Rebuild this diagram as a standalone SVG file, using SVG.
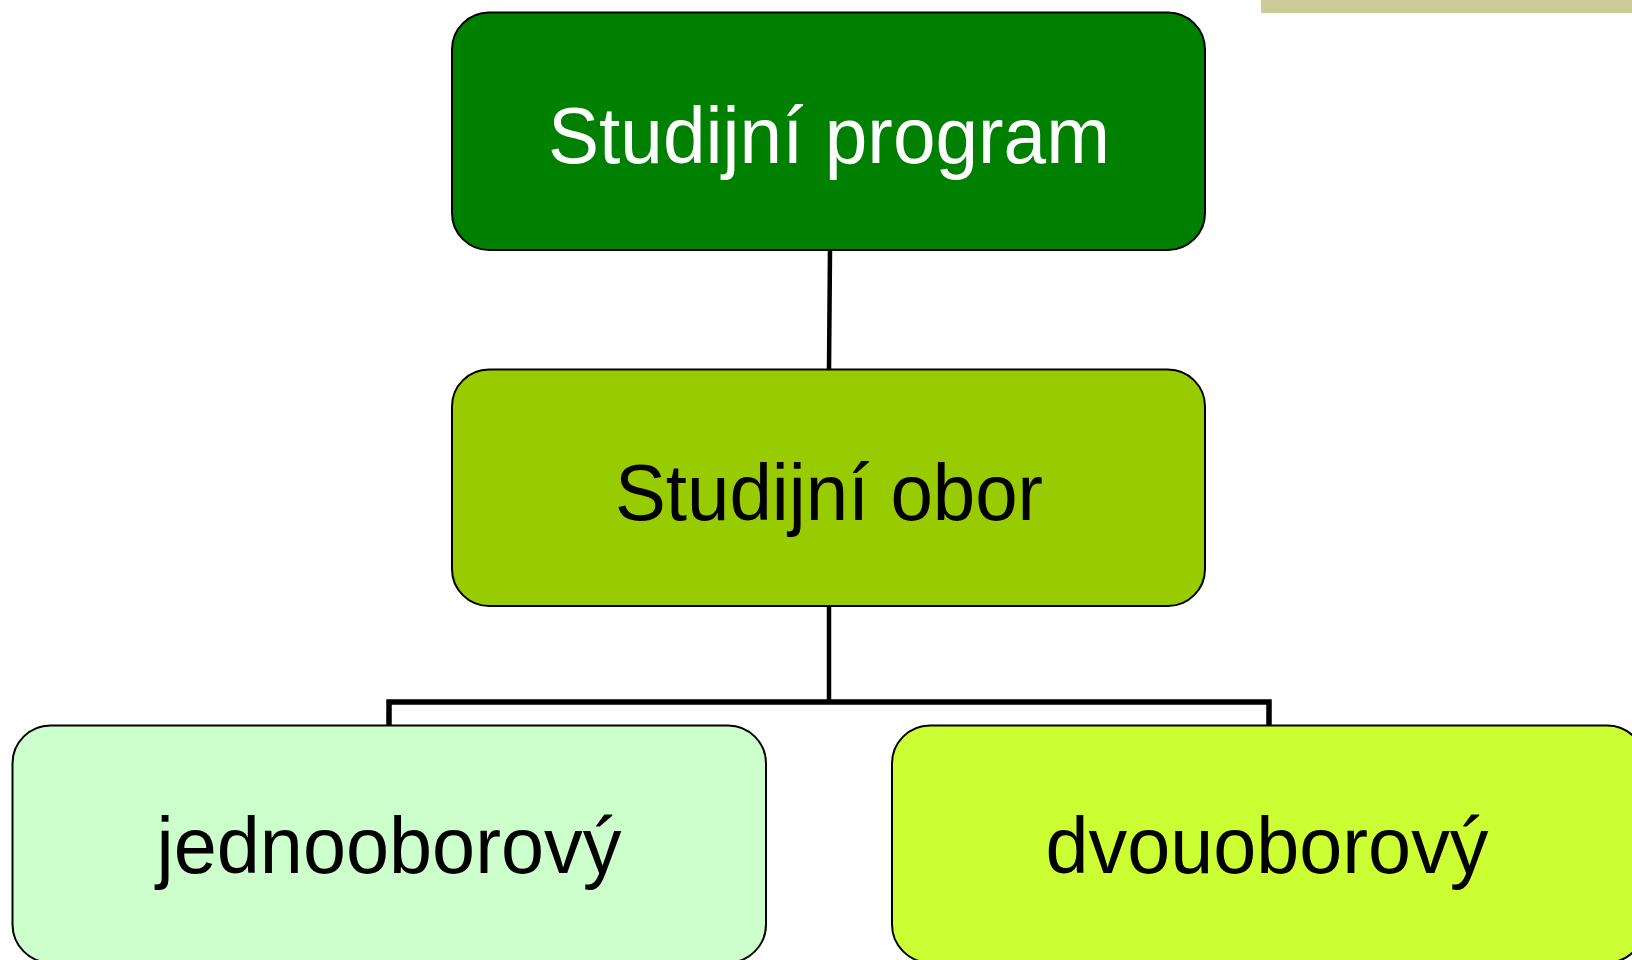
<svg xmlns="http://www.w3.org/2000/svg" width="1632" height="960" viewBox="0 0 1632 960">
<style>
.box{stroke:#000;stroke-width:2}
.lbl{font-family:"Liberation Sans",Arial,sans-serif;font-size:80px;text-anchor:middle}
.conn{fill:none;stroke:#000;stroke-linejoin:miter}
</style>
<rect x="0" y="0" width="1632" height="960" fill="#fff"/>
<rect x="1261" y="0" width="371" height="13" fill="#CCCC99"/>
<g id="connectors">
<line class="conn" x1="830" y1="250" x2="829" y2="369" stroke-width="4.5"/>
<line class="conn" x1="829" y1="606" x2="829" y2="702" stroke-width="4.5"/>
<polyline class="conn" points="389,726 389,702 1269,702 1269,726" stroke-width="5.5"/>
</g>
<g id="node-program">
<rect class="box" x="452" y="12.5" width="753" height="237.5" rx="37" ry="37" fill="#008000"/>
<text class="lbl" x="829" y="163" fill="#fff" textLength="562" lengthAdjust="spacingAndGlyphs">Studijní program</text>
</g>
<g id="node-obor">
<rect class="box" x="452" y="369.5" width="753" height="236.5" rx="37" ry="37" fill="#99CC00"/>
<text class="lbl" x="829" y="520" fill="#000" textLength="428" lengthAdjust="spacingAndGlyphs">Studijní obor</text>
</g>
<g id="node-jedno">
<rect class="box" x="12.5" y="725.5" width="753.5" height="237" rx="38" ry="38" fill="#CCFFCC"/>
<text class="lbl" x="389" y="873" fill="#000" textLength="465" lengthAdjust="spacingAndGlyphs">jednooborový</text>
</g>
<g id="node-dvou">
<rect class="box" x="892" y="725.5" width="753" height="237" rx="38" ry="38" fill="#CCFF33"/>
<text class="lbl" x="1267" y="873" fill="#000" textLength="443" lengthAdjust="spacingAndGlyphs">dvouoborový</text>
</g>
</svg>
